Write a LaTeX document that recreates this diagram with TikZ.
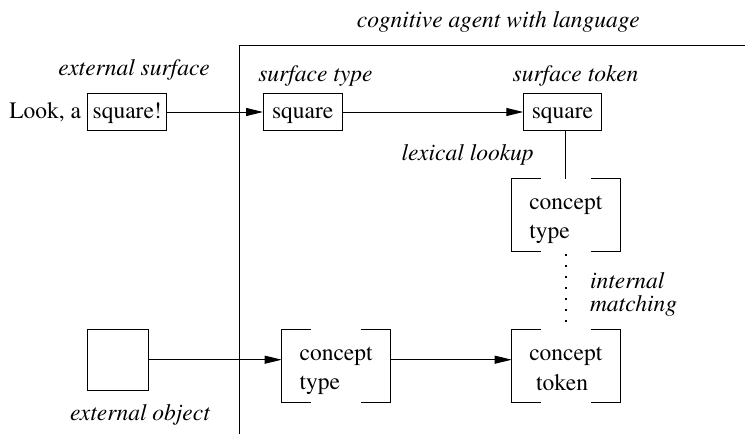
\documentclass[tikz,border=0pt]{standalone}
\usepackage[T1]{fontenc}
\renewcommand\rmdefault{ptm}
\usetikzlibrary{arrows.meta}
\newcommand\figfont{\fontsize{23.5}{29}\selectfont}
\begin{document}
\begin{tikzpicture}[x=1pt,y=-1pt,line width=0.9pt,font=\figfont,
  txt/.style={inner sep=0,outer sep=0,anchor=base west},
  lab/.style={txt,font=\figfont\itshape},
  wordbox/.style={draw,inner sep=0,outer sep=0,minimum height=37.4pt,
    text height=17pt,text depth=5pt},
  cbox/.style={inner sep=0,outer sep=0,minimum width=108.3pt,minimum height=72.5pt},
  arr/.style={-{Triangle[length=17pt,width=8pt]}},
  dots/.style={line width=1.6pt,dash pattern=on 1.6pt off 9.4pt,
    shorten <=3.2pt,shorten >=7pt}]
\useasboundingbox (0,0) rectangle (745,434);

% agent boundary
\draw (239.3,434) -- (239.3,45.7) -- (745,45.7);
\node[lab,anchor=base] (agent) at (498.3,27) {cognitive agent with language};

% surfaces
\node[txt] (look) at (9.3,118.3) {Look, a};
\node[wordbox,minimum width=79pt] (sqx) at (127.2,112) {square!};
\node[wordbox,minimum width=79.3pt] (stype) at (302.7,112) {square};
\node[wordbox,minimum width=78.4pt] (stok) at (562.5,112) {square};
\node[lab] (extsurf) at (58.3,75) {external surface};
\node[lab] (stypelab) at (258.3,81.5) {surface type};
\node[lab] (stoklab) at (512.7,81.5) {surface token};
\node[lab] (lexlab) at (401.7,160.5) {lexical lookup};

% concepts
\node[cbox] (ctA) at (565.85,214.75) {};
\node[cbox] (ctok) at (565.85,366) {};
\node[cbox] (ctB) at (335.85,365.85) {};
\node[draw,inner sep=0,outer sep=0,minimum size=60.6pt] (eobj) at (118,359.7) {};

\foreach \n in {ctA,ctB,ctok}{
  \draw ([xshift=29.5pt]\n.north west) -- (\n.north west) -- (\n.south west)
        -- ([xshift=29.5pt]\n.south west);
  \draw ([xshift=-29.5pt]\n.north east) -- (\n.north east) -- (\n.south east)
        -- ([xshift=-29.5pt]\n.south east);
}

\node[txt] (ctAa) at (529.3,209) {concept};
\node[txt] (ctAb) at (529.3,238.5) {type};
\node[txt] (ctBa) at (299.6,360) {concept};
\node[txt] (ctBb) at (299.6,389.3) {type};
\node[txt] (ctoka) at (529.3,360) {concept};
\node[txt] (ctokb) at (536,390) {token};

\node[lab] (intlab) at (590,288) {internal};
\node[lab] (matchlab) at (590,311.7) {matching};
\node[lab] (extobj) at (70,420) {external object};

% connectors
\draw[arr] (sqx.east) -- (stype.west);
\draw[arr] (stype.east) -- (stok.west);
\draw (stok.south -| ctA.north) -- (ctA.north);
\draw[dots] (ctA.south) -- (ctok.north);
\draw[arr] (eobj.east) -- (eobj.east -| ctB.west);
\draw[arr] (eobj.east -| ctB.east) -- (eobj.east -| ctok.west);
\end{tikzpicture}
\end{document}
